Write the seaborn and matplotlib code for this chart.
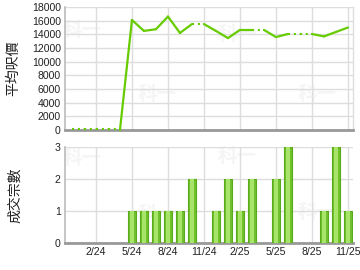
import numpy as np
import pandas as pd
import matplotlib
matplotlib.use("Agg")
import matplotlib.pyplot as plt
import seaborn as sns

months = ["12/23", "1/24", "2/24", "3/24", "4/24", "5/24", "6/24", "7/24", "8/24",
          "9/24", "10/24", "11/24", "12/24", "1/25", "2/25", "3/25", "4/25", "5/25",
          "6/25", "7/25", "8/25", "9/25", "10/25", "11/25"]
avg_price = [None, None, None, None, None, 16100, 14500, 14750, 16600,
             14200, 15500, None, 14500, 13450, 14650, 14650, None, 13600,
             14050, None, None, 13700, 14350, 15000]
deals = [0, 0, 0, 0, 0, 1, 1, 1, 1, 1, 2, 0, 1, 2, 1, 2, 0, 2, 3, 0, 0, 1, 3, 1]
tick_labels = ["2/24", "5/24", "8/24", "11/24", "2/25", "5/25", "8/25", "11/25"]
price_ticks = list(range(0, 18001, 2000))
deal_ticks = [0, 1, 2, 3]

sns.set_theme(style="white")
plt.rcParams['font.family'] = ['Liberation Sans', 'Noto Sans CJK TC', 'DejaVu Sans']

fig = plt.figure(figsize=(3.6, 2.7), dpi=100)
ax1 = fig.add_axes([65/360, 1-130/270, 288/360, 123/270])
ax2 = fig.add_axes([65/360, 1-243/270, 288/360, 96/270])

green = "#66cc00"
grid_c = "#dddddd"
idx = np.arange(len(months))
tick_pos = [months.index(t) for t in tick_labels]
fs = 7.6

# watermarks
for (x, y) in [(82, 30), (157, 95), (237, 35), (317, 95), (82, 158), (157, 215), (237, 157), (317, 212)]:
    fig.text(x/360, 1-y/270, "科一", color="#f5f5f5", fontsize=14, fontweight="bold",
             ha="center", va="center", family=['Noto Sans CJK TC'], zorder=0)
for ax in (ax1, ax2):
    ax.set_zorder(1)
    ax.patch.set_alpha(0)

# top line
s = pd.Series(avg_price, dtype=float)
filled = s.ffill().fillna(0).to_numpy()
valid = s.notna().to_numpy()
for i in range(1, len(months)):
    if valid[i]:
        ax1.plot([idx[i-1], idx[i]], [filled[i-1], filled[i]], color=green,
                 lw=1.6, linestyle="-", solid_capstyle="round", zorder=5, clip_on=False)
    else:
        yv = [filled[i-1], filled[i]]
        if yv[0] == 0:
            yv = [150, 150]
        ax1.plot([idx[i-1], idx[i]], yv, color=green,
                 lw=1.5, linestyle=(0, (1, 1.8)), dash_capstyle="butt", zorder=5, clip_on=False)

ax1.set_xlim(-0.58, 23.42)
ax1.set_ylim(0, 18000)
ax1.set_yticks(price_ticks)
ax1.set_yticklabels([str(v) for v in price_ticks], fontsize=fs, color="#222222")
ax1.set_xticks(tick_pos)
ax1.set_xticklabels([])
ax1.grid(True, color=grid_c, lw=1)
ax1.set_axisbelow(True)
ax1.tick_params(length=0, pad=3)
ax1.set_ylabel("平均呎價", fontsize=10, family=['Noto Sans CJK TC'], color="#222222")
ax1.yaxis.set_label_coords(-0.155, 0.5)

# bottom bars
df = pd.DataFrame({"month": months, "deals": deals})
sns.barplot(data=df, x="month", y="deals", order=months, ax=ax2, color="#6fc22c",
            width=0.62, edgecolor="#5aab1a", linewidth=0.8, saturation=1, zorder=3)
ax2.bar(idx, deals, width=0.28, color="#a8e46a", linewidth=0, zorder=4)

ax2.set_xlim(-0.58, 23.42)
ax2.set_ylim(0, 3)
ax2.set_yticks(deal_ticks)
ax2.set_yticklabels([str(v) for v in deal_ticks], fontsize=fs, color="#222222")
ax2.set_xticks(tick_pos)
ax2.set_xticklabels(tick_labels, fontsize=fs, color="#222222")
ax2.set_xlabel("")
ax2.grid(True, color=grid_c, lw=1)
ax2.set_axisbelow(True)
ax2.tick_params(length=0, pad=3)
ax2.set_ylabel("成交宗數", fontsize=10, family=['Noto Sans CJK TC'], color="#222222")
ax2.yaxis.set_label_coords(-0.148, 0.5)

for ax in (ax1, ax2):
    ax.spines["top"].set_visible(False)
    ax.spines["right"].set_color(grid_c)
    ax.spines["right"].set_linewidth(1)
    ax.spines["left"].set_color("#bbbbbb")
    ax.spines["left"].set_linewidth(1.2)
    ax.spines["bottom"].set_color("#999999")
    ax.spines["bottom"].set_linewidth(2)
ax2.spines["right"].set_visible(False)

fig.savefig("out.png", dpi=100)
